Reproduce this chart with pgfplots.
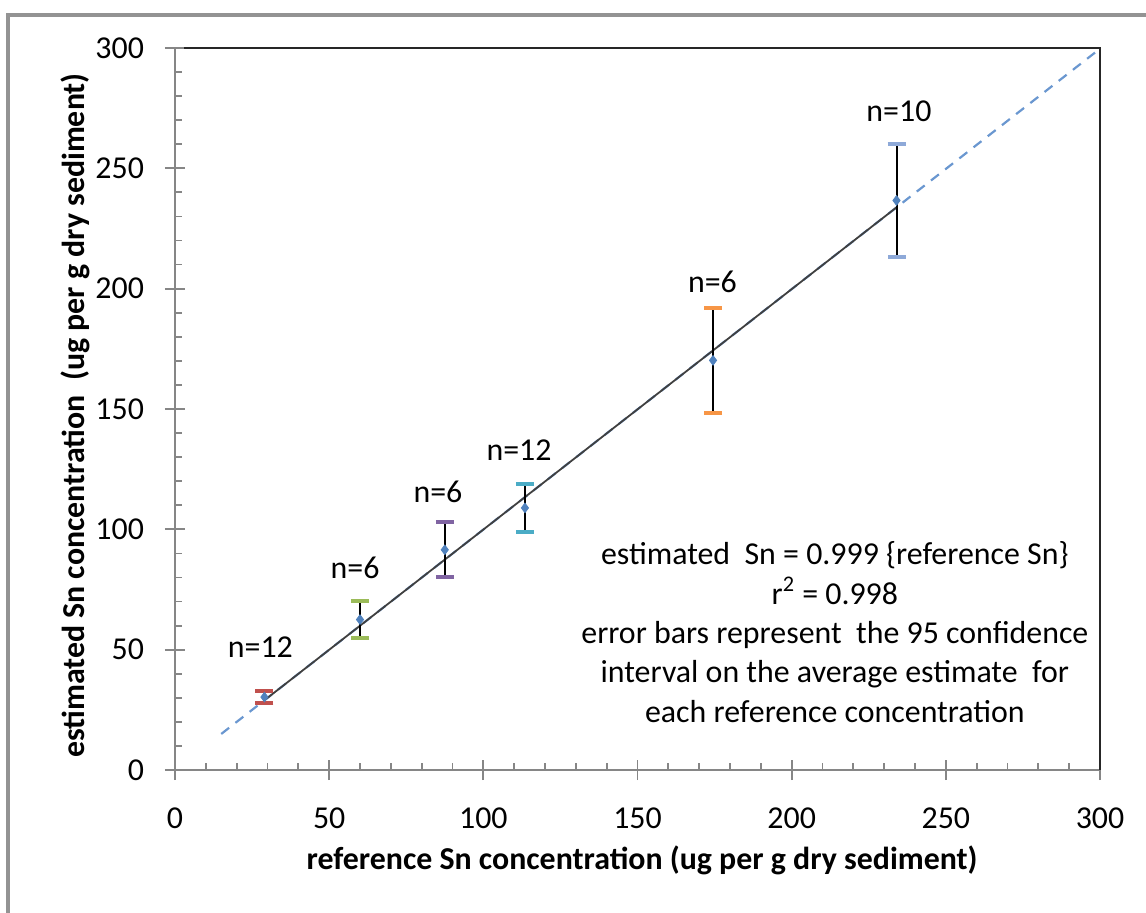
\documentclass[border=0pt]{standalone}
\usepackage{pgfplots}
\pgfplotsset{compat=1.18}
\usepackage{fontspec}
\setmainfont{Carlito}
\definecolor{mkblue}{HTML}{4F81BD}
\definecolor{dashblue}{HTML}{6A97D0}
\definecolor{capred}{HTML}{C0504D}
\definecolor{capgreen}{HTML}{9BBB59}
\definecolor{cappurple}{HTML}{8064A2}
\definecolor{capteal}{HTML}{4BACC6}
\definecolor{caporange}{HTML}{F79646}
\definecolor{capgrey}{HTML}{8EA9D8}
\definecolor{axgray}{HTML}{868686}
\begin{document}
\begin{tikzpicture}
\begin{axis}[
  at={(0,0)}, anchor=south west,
  width=462.5bp, height=361bp, scale only axis,
  xmin=0, xmax=300, ymin=0, ymax=300,
  clip=false,
  xtick={0,50,...,300}, ytick={0,50,...,300},
  minor x tick num=4, minor y tick num=4,
  xtick pos=left, ytick pos=left,
  tick align=center,
  major tick length=10bp, minor tick length=3.5bp,
  tick style={color=axgray, line width=0.9bp},
  minor x tick style={yshift=1.75bp},
  minor y tick style={xshift=1.75bp},
  axis line style={draw=none},
  /pgf/number format/assume math mode=true,
  ticklabel style={font=\fontsize{16}{19}\selectfont},
  xticklabel style={yshift=-10.6bp},
  yticklabel style={xshift=-7bp},
  xlabel={reference Sn concentration (ug per g dry sediment)},
  ylabel={estimated Sn concentration\ \ (ug per g dry sediment)},
  label style={font=\bfseries\fontsize{16}{19}\selectfont},
  xlabel style={at={(axis description cs:0.505,-0.1247)}, anchor=center},
  ylabel style={at={(axis description cs:-0.108,0.491)}, anchor=center},
]
\draw[axgray, line width=1.1bp] (rel axis cs:0,0) -- (rel axis cs:1,0);
\draw[axgray, line width=1.1bp] (rel axis cs:0,0) -- (rel axis cs:0,1);
\draw[black!85, line width=1.1bp] (rel axis cs:0.01,1) -- (rel axis cs:1,1) -- (rel axis cs:1,0);

% dashed extended trend line
\addplot[dashblue, line width=1.1bp, dash pattern=on 5bp off 4bp] coordinates {(15,14.985) (300,299.7)};
% solid trend line
\addplot[black!75, line width=0.9bp] coordinates {(29,28.97) (234,233.77)};

\addplot[only marks, mark=diamond*, mark size=2.4bp, color=mkblue,
  error bars/.cd, y dir=both, y explicit,
  error bar style={black, line width=1bp},
  error mark options={capred, line width=2bp, mark size=4.5bp, rotate=90}]
  coordinates {(29,30.3) +- (0,2.55)};
\addplot[only marks, mark=diamond*, mark size=2.4bp, color=mkblue,
  error bars/.cd, y dir=both, y explicit,
  error bar style={black, line width=1bp},
  error mark options={capgreen, line width=2bp, mark size=4.5bp, rotate=90}]
  coordinates {(60,62.5) +- (0,7.7)};
\addplot[only marks, mark=diamond*, mark size=2.4bp, color=mkblue,
  error bars/.cd, y dir=both, y explicit,
  error bar style={black, line width=1bp},
  error mark options={cappurple, line width=2bp, mark size=4.5bp, rotate=90}]
  coordinates {(87.5,91.5) +- (0,11.4)};
\addplot[only marks, mark=diamond*, mark size=2.4bp, color=mkblue,
  error bars/.cd, y dir=both, y explicit,
  error bar style={black, line width=1bp},
  error mark options={capteal, line width=2bp, mark size=4.5bp, rotate=90}]
  coordinates {(113.5,108.9) +- (0,9.9)};
\addplot[only marks, mark=diamond*, mark size=2.4bp, color=mkblue,
  error bars/.cd, y dir=both, y explicit,
  error bar style={black, line width=1bp},
  error mark options={caporange, line width=2bp, mark size=4.5bp, rotate=90}]
  coordinates {(174.5,170.2) +- (0,21.95)};
\addplot[only marks, mark=diamond*, mark size=2.4bp, color=mkblue,
  error bars/.cd, y dir=both, y explicit,
  error bar style={black, line width=1bp},
  error mark options={capgrey, line width=2bp, mark size=4.5bp, rotate=90}]
  coordinates {(234,236.65) +- (0,23.35)};

\begin{scope}[every node/.style={font=\fontsize{16}{19}\selectfont, anchor=center}]
\node at (axis cs:27.7,51.1) {n=12};
\node at (axis cs:58.4,83.9) {n=6};
\node at (axis cs:85.3,115.6) {n=6};
\node at (axis cs:111.6,132.9) {n=12};
\node at (axis cs:174.3,202.9) {n=6};
\node at (axis cs:234.8,273.9) {n=10};
\end{scope}

\node[align=center, font=\fontsize{16}{19.75}\selectfont] at (axis cs:214,57.3)
  {estimated\ \ Sn = 0.999 \{reference Sn\}\\
   r\textsuperscript{2} = 0.998\\
   error bars represent\ \ the 95 confidence\\
   interval on the average estimate\ \ for\\
   each reference concentration};
\end{axis}
\pgfresetboundingbox
\path[use as bounding box] (-87.5bp,-71.5bp) rectangle (485.5bp,385bp);
\draw[gray!85, line width=1.6bp] (-83.5bp,-72bp) -- (-83.5bp,377.5bp) -- (486bp,377.5bp);
\end{tikzpicture}
\end{document}
